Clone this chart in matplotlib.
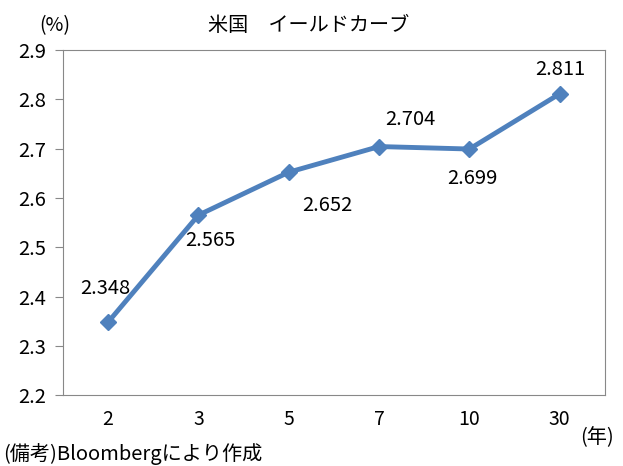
import matplotlib.pyplot as plt

plt.rcParams['font.family'] = ['Noto Sans CJK JP', 'DejaVu Sans']

maturities = ['2', '3', '5', '7', '10', '30']
yields = [2.348, 2.565, 2.652, 2.704, 2.699, 2.811]
# label offsets in pixels (dx, dy)
label_offsets = [(-3, 34), (12, -25), (39, -33), (31, 27), (3, -29), (1, 24)]

fig = plt.figure(figsize=(6.23, 4.66), dpi=100)
ax = fig.add_axes([0.101, 0.152, 0.870, 0.741])

x = list(range(len(maturities)))
ax.plot(x, yields, color='#4F81BD', lw=3.5, marker='D', ms=8, mec='#4F81BD', mfc='#4F81BD')

for xi, v, (dx, dy) in zip(x, yields, label_offsets):
    ax.annotate(f'{v:.3f}', (xi, v), xytext=(dx * 0.72, dy * 0.72), textcoords='offset points',
                ha='center', va='center', fontsize=14.5)

ax.set_xlim(-0.5, len(maturities) - 0.5)
ax.set_ylim(2.2, 2.9)
ax.set_yticks([2.2, 2.3, 2.4, 2.5, 2.6, 2.7, 2.8, 2.9])
ax.set_yticklabels([f'{t:.1f}' for t in ax.get_yticks()], fontsize=14.5)
ax.set_xticks(x)
ax.set_xticklabels(maturities, fontsize=14)
ax.tick_params(axis='x', length=0, pad=10)
ax.tick_params(axis='y', length=6, color='#888888', pad=6)
for s in ax.spines.values():
    s.set_color('#888888')

fig.text(0.495, 0.945, '米国　イールドカーブ', ha='center', va='center', fontsize=14.5)
fig.text(0.063, 0.945, '(%)', ha='left', va='center', fontsize=14)
fig.text(0.985, 0.06, '(年)', ha='right', va='center', fontsize=14.5)
fig.text(0.005, 0.025, '(備考)Bloombergにより作成', ha='left', va='center', fontsize=14.5)

plt.savefig('out.png', dpi=100)
